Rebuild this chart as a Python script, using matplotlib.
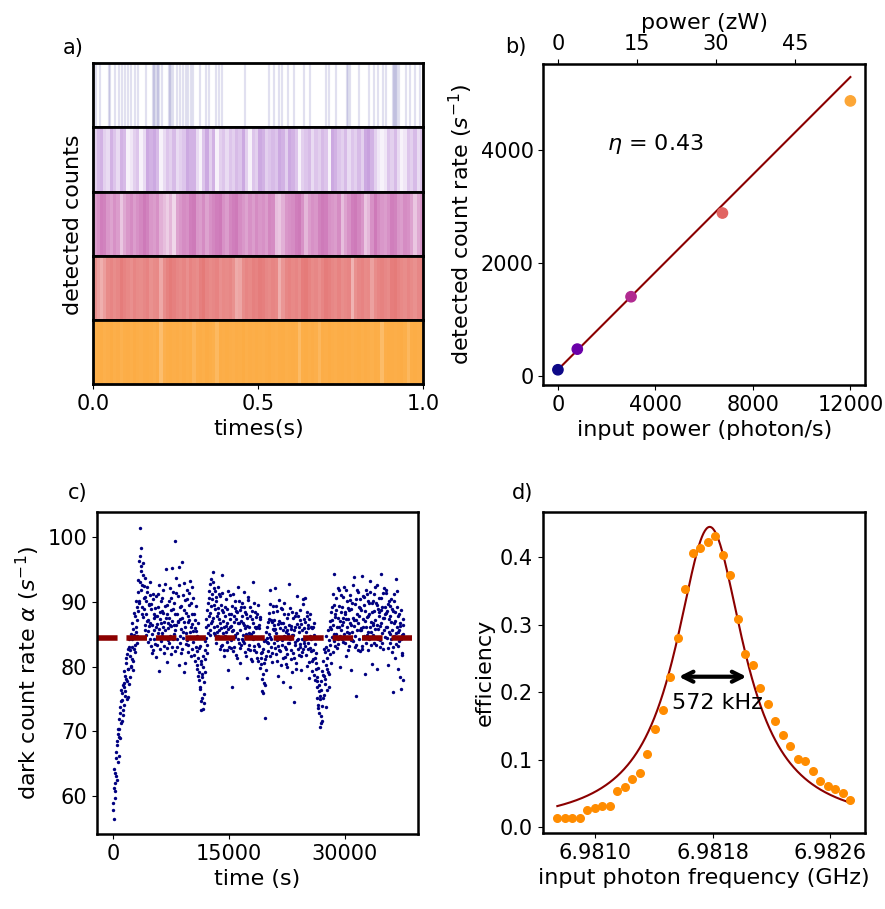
import numpy as np
import matplotlib.pyplot as plt
from matplotlib.colors import to_rgb

plt.rcParams['font.size'] = 15
plt.rcParams['axes.labelsize'] = 16

# colours of the five input powers (plasma 0, .2, .4, .6, .8)
row_colors = ['#0d0887', '#6a00a8', '#b12a90', '#e16462', '#fca636']

# a) lowest power: single detection events (s)
row1_times = [0.007, 0.021, 0.048, 0.052, 0.065, 0.078, 0.088, 0.096, 0.105, 0.113,
              0.125, 0.135, 0.159, 0.182, 0.185, 0.187, 0.193, 0.196, 0.199, 0.209,
              0.229, 0.231, 0.235, 0.242, 0.254, 0.263, 0.273, 0.282, 0.288, 0.296,
              0.302, 0.324, 0.341, 0.350, 0.371, 0.381, 0.390, 0.461, 0.532, 0.547,
              0.562, 0.572, 0.590, 0.607, 0.638, 0.656, 0.705, 0.715, 0.735, 0.770,
              0.772, 0.779, 0.804, 0.835, 0.850, 0.863, 0.878, 0.888, 0.907, 0.910,
              0.913, 0.916, 0.919, 0.925, 0.948, 0.961, 0.976, 0.991]

# a) higher powers: detections per 10 ms bin
row2_counts = [4, 6, 7, 4, 3, 7, 5, 3, 7, 6, 1, 2, 4, 5, 1, 3, 8, 7, 8, 6,
               1, 3, 5, 4, 6, 3, 4, 5, 8, 7, 7, 3, 1, 5, 8, 4, 7, 1, 4, 5,
               3, 5, 4, 6, 5, 8, 4, 1, 5, 4, 8, 7, 4, 5, 6, 5, 8, 7, 4, 8,
               7, 5, 1, 4, 5, 6, 3, 5, 4, 6, 5, 1, 8, 7, 5, 4, 6, 3, 5, 4,
               6, 4, 8, 9, 7, 4, 2, 1, 2, 5, 4, 6, 3, 1, 2, 5, 4, 6, 3, 5]
row3_counts = [12, 14, 18, 17, 13, 11, 14, 12, 6, 10, 13, 15, 12, 14, 16, 19, 17, 13, 12, 14,
               9, 7, 5, 8, 4, 11, 13, 15, 14, 18, 19, 13, 12, 15, 11, 14, 16, 18, 19, 14,
               12, 16, 18, 19, 15, 13, 11, 14, 12, 15, 13, 14, 12, 16, 15, 7, 6, 9, 13, 14,
               15, 18, 19, 14, 8, 12, 14, 13, 17, 19, 18, 14, 13, 12, 15, 7, 11, 14, 18, 19,
               16, 13, 6, 8, 14, 19, 15, 13, 12, 14, 18, 17, 13, 12, 15, 14, 11, 6, 10, 13]
row4_counts = [24, 18, 14, 19, 27, 30, 26, 29, 36, 31, 28, 25, 30, 27, 26, 29, 31, 24, 27, 28,
               16, 26, 32, 37, 33, 29, 27, 30, 25, 31, 28, 26, 34, 38, 30, 27, 29, 31, 25, 28,
               27, 29, 24, 15, 17, 26, 30, 28, 33, 31, 36, 34, 29, 27, 30, 28, 14, 22, 29, 31,
               28, 30, 26, 35, 37, 31, 27, 29, 25, 30, 36, 33, 29, 27, 31, 26, 28, 30, 13, 24,
               29, 31, 27, 28, 18, 26, 30, 32, 29, 27, 35, 37, 31, 28, 26, 30, 27, 24, 29, 31]
row5_counts = [44, 47, 50, 43, 46, 52, 45, 48, 41, 47, 49, 45, 51, 47, 44, 48, 50, 46, 43, 49,
               25, 42, 47, 50, 46, 48, 44, 49, 45, 47, 33, 46, 49, 45, 51, 47, 43, 30, 48, 46,
               50, 46, 44, 49, 47, 52, 45, 48, 46, 50, 47, 45, 49, 51, 46, 44, 48, 50, 45, 47,
               49, 46, 28, 47, 50, 45, 48, 44, 32, 49, 46, 51, 47, 45, 49, 50, 46, 48, 44, 47,
               50, 45, 48, 46, 43, 49, 47, 27, 46, 50, 48, 46, 49, 51, 45, 31, 47, 50, 46, 48]

# b) count rate vs input power
power_in = [0, 795, 3000, 6750, 12000]
count_rate = [118, 482, 1406, 2882, 4859]
eta = 0.43
rate_offset = 120

# c) dark count rate, two interleaved runs, one point every 80 s each
dark_step = 80
dark_rate_a = [
    58.9, 61.2, 56.4, 63.5, 60.8, 65.9, 62.4, 67.8, 69.6, 66.1,
    70.3, 72.8, 68.9, 74.6, 71.5, 75.9, 73.2, 77.4, 74.1, 78.6,
    76.2, 80.5, 77.8, 81.9, 75.3, 79.7, 83.1, 78.4, 82.6, 80.1,
    84.3, 81.2, 79.5, 85.8, 82.7, 87.9, 83.4, 86.1, 89.2, 84.8,
    88.6, 93.4, 90.2, 97.1, 101.5, 91.8, 95.6, 89.3, 94.2, 87.7,
    92.5, 86.4, 90.8, 88.1, 84.9, 91.6, 87.2, 85.5, 89.7, 93.1,
    86.8, 83.2, 88.9, 85.1, 90.4, 82.6, 87.5, 84.3, 89.1, 86.2,
    81.5, 87.9, 84.6, 91.2, 85.8, 79.3, 88.4, 86.7, 83.9, 90.6,
    85.2, 88.3, 82.1, 86.9, 92.8, 84.4, 87.6, 80.7, 89.5, 85.9,
    83.6, 90.1, 86.5, 88.8, 81.9, 95.3, 87.1, 84.2, 89.9, 86.4,
    99.5, 85.7, 91.4, 83.1, 88.2, 86.9, 80.2, 92.6, 87.3, 84.8,
    89.4, 82.7, 96.2, 85.3, 88.7, 79.1, 90.3, 86.2, 83.5, 91.9,
    84.1, 87.8, 82.3, 89.6, 85.4, 93.2, 81.6, 88.1, 86.6, 83.8,
    90.7, 84.6, 87.2, 80.9, 85.5, 82.4, 79.6, 86.8, 81.3, 77.9,
    83.2, 76.5, 80.4, 74.7, 78.9, 73.4, 81.7, 75.8, 79.2, 82.6,
    84.5, 87.3, 82.1, 89.8, 86.4, 91.7, 84.9, 88.3, 93.5, 86.7,
    90.4, 87.6, 94.6, 85.2, 92.1, 88.9, 83.7, 90.8, 86.3, 89.1,
    84.7, 91.3, 87.4, 82.8, 89.6, 85.9, 94.2, 83.4, 88.5, 86.1,
    81.6, 87.9, 85.3, 90.5, 83.8, 86.7, 79.4, 88.2, 84.5, 91.1,
    86.3, 82.9, 89.4, 76.9, 85.6, 87.8, 83.1, 90.2, 84.9, 88.6,
    85.2, 81.4, 92.4, 86.8, 83.6, 88.7, 80.5, 87.1, 84.3, 89.9,
    83.9, 86.5, 91.6, 82.2, 88.4, 85.1, 78.3, 87.5, 84.8, 90.3,
    86.1, 82.5, 89.2, 84.7, 87.3, 80.8, 93.1, 85.4, 83.2, 88.5,
    84.6, 87.7, 81.3, 86.2, 89.6, 83.5, 85.9, 79.8, 87.4, 82.1,
    80.4, 76.2, 78.9, 82.7, 77.4, 84.1, 72.0, 81.6, 85.3, 83.8,
    86.9, 82.4, 88.3, 84.6, 91.8, 83.1, 87.2, 80.7, 85.8, 89.4,
    83.7, 86.4, 92.1, 81.9, 85.2, 88.6, 78.5, 84.3, 87.1, 82.6,
    85.9, 80.3, 89.1, 83.4, 86.8, 77.6, 84.7, 88.2, 81.5, 85.4,
    82.8, 87.5, 79.9, 85.1, 92.8, 83.6, 76.8, 86.3, 81.2, 84.9,
    88.4, 82.1, 85.7, 74.5, 87.9, 83.3, 80.6, 86.6, 90.9, 84.2,
    81.8, 86.1, 83.5, 88.8, 79.4, 85.6, 82.3, 89.7, 84.1, 87.3,
    83.2, 90.6, 85.4, 80.1, 87.8, 82.7, 86.5, 78.2, 84.8, 88.1,
    82.4, 85.9, 79.3, 84.6, 81.1, 86.7, 77.9, 83.5, 80.6, 78.4,
    75.2, 79.8, 73.6, 77.1, 70.6, 74.9, 72.3, 76.4, 71.5, 78.7,
    80.9, 75.6, 82.3, 78.1, 84.7, 73.8, 81.4, 79.2, 85.6, 76.8,
    83.4, 87.1, 80.6, 85.8, 89.3, 82.2, 86.4, 94.4, 83.9, 88.2,
    85.1, 90.7, 82.9, 87.6, 84.3, 91.8, 86.2, 79.9, 88.5, 85.7,
    89.3, 83.8, 86.9, 92.4, 84.5, 88.1, 81.7, 87.3, 90.2, 85.4,
    82.6, 88.7, 85.2, 91.1, 86.4, 79.5, 89.8, 84.1, 87.6, 93.9,
    86.3, 83.1, 90.5, 75.4, 88.2, 85.7, 91.6, 84.3, 87.9, 82.4,
    89.1, 85.6, 94.1, 83.2, 87.4, 90.8, 84.7, 78.8, 88.6, 86.2,
    91.3, 84.9, 87.8, 82.5, 89.9, 86.1, 93.2, 85.3, 80.4, 88.4,
    86.7, 90.1, 83.6, 92.3, 87.2, 84.4, 89.5, 79.7, 88.9, 85.8,
    90.6, 86.3, 83.1, 88.7, 94.4, 85.2, 91.4, 82.8, 87.5, 89.2,
    84.6, 88.3, 91.9, 86.1, 80.3, 89.7, 85.4, 87.8, 83.7, 90.5,
    86.9, 82.2, 88.6, 76.1, 91.2, 84.8, 87.1, 93.6, 83.5, 89.3,
    85.3, 79.6, 88.1, 83.9, 86.7, 76.5, 84.2, 81.8, 87.4, 85.1]
dark_rate_b = [
    57.8, 64.2, 59.7, 61.9, 66.8, 63.1, 68.5, 65.2, 70.4, 71.9,
    69.1, 73.7, 76.3, 71.2, 74.8, 77.1, 72.5, 79.3, 76.8, 75.4,
    81.3, 78.1, 74.9, 82.8, 79.6, 84.2, 77.3, 81.7, 85.1, 79.9,
    83.1, 86.7, 80.8, 84.9, 88.3, 82.2, 85.4, 90.1, 83.7, 87.2,
    91.5, 89.8, 96.4, 93.1, 98.4, 94.8, 88.2, 92.6, 96.1, 90.7,
    88.9, 93.8, 85.6, 90.2, 87.1, 92.4, 83.8, 89.5, 86.3, 91.1,
    84.2, 89.7, 86.4, 82.1, 91.3, 85.7, 88.2, 83.5, 87.8, 90.9,
    86.6, 83.4, 89.3, 85.2, 92.7, 87.4, 82.8, 90.1, 84.7, 88.6,
    91.8, 86.1, 83.2, 89.4, 85.6, 95.1, 82.9, 88.1, 86.8, 84.1,
    87.5, 92.2, 84.8, 90.6, 86.3, 83.1, 88.9, 91.5, 85.1, 82.4,
    88.1, 93.7, 86.4, 84.2, 90.9, 87.1, 95.4, 83.6, 89.2, 85.8,
    82.1, 87.6, 91.1, 84.5, 86.9, 92.9, 80.6, 88.3, 85.2, 90.4,
    86.9, 83.3, 91.4, 87.2, 84.6, 89.8, 86.1, 92.4, 82.7, 85.5,
    88.2, 81.8, 85.9, 89.4, 83.1, 80.2, 84.7, 78.6, 82.9, 79.1,
    76.8, 80.9, 73.2, 78.4, 75.1, 79.9, 74.3, 77.6, 81.2, 83.9,
    86.1, 83.4, 88.7, 85.2, 90.6, 87.9, 92.8, 85.6, 89.4, 91.2,
    87.1, 93.1, 89.6, 86.2, 91.7, 84.9, 90.2, 87.8, 85.3, 92.4,
    88.3, 85.6, 90.9, 86.8, 83.2, 88.7, 91.4, 85.2, 87.1, 82.6,
    89.2, 84.7, 86.3, 82.5, 88.9, 85.8, 91.7, 83.1, 87.4, 86.2,
    84.1, 88.2, 85.5, 91.3, 82.4, 86.9, 89.1, 84.6, 81.8, 87.3,
    88.4, 84.2, 86.7, 90.1, 82.9, 85.6, 89.3, 83.4, 87.8, 84.9,
    86.8, 89.2, 83.7, 85.9, 81.6, 88.1, 86.3, 90.8, 82.7, 85.2,
    83.4, 87.9, 85.1, 81.2, 88.6, 84.2, 86.8, 89.9, 82.6, 86.1,
    85.9, 82.3, 88.1, 84.4, 80.9, 86.5, 83.2, 87.7, 81.4, 84.6,
    78.1, 82.3, 75.9, 80.6, 83.9, 77.2, 81.1, 79.4, 84.5, 86.2,
    83.6, 87.4, 85.1, 81.6, 89.7, 84.3, 86.9, 82.1, 88.4, 85.7,
    87.2, 82.9, 85.8, 89.4, 84.1, 80.8, 86.6, 83.2, 90.3, 84.5,
    82.4, 86.7, 84.1, 88.9, 81.3, 85.6, 89.8, 83.1, 86.2, 80.4,
    85.6, 81.9, 88.2, 83.7, 86.4, 84.2, 89.1, 82.5, 85.8, 79.2,
    84.9, 87.6, 81.4, 83.8, 86.2, 79.6, 88.3, 84.1, 82.7, 87.9,
    85.4, 83.1, 87.2, 81.7, 86.6, 84.3, 90.4, 82.8, 85.9, 83.6,
    86.9, 84.2, 81.8, 88.4, 83.6, 85.9, 80.7, 87.3, 82.9, 86.1,
    84.3, 80.9, 86.2, 82.6, 78.7, 84.9, 81.3, 79.6, 82.1, 76.9,
    77.8, 74.1, 76.2, 72.8, 75.4, 71.2, 77.7, 73.9, 79.3, 75.1,
    78.6, 82.8, 77.3, 80.2, 83.1, 79.7, 76.4, 82.5, 78.9, 84.1,
    86.1, 81.9, 88.4, 84.6, 87.2, 91.3, 85.1, 89.6, 83.2, 87.7,
    88.8, 84.6, 86.2, 92.1, 83.5, 89.4, 87.1, 84.8, 91.1, 86.4,
    84.2, 90.8, 87.6, 85.1, 88.4, 83.7, 91.9, 86.2, 84.6, 89.1,
    87.4, 83.2, 90.3, 86.8, 84.1, 88.9, 85.3, 92.6, 83.9, 87.2,
    89.7, 84.8, 87.2, 83.3, 91.9, 86.7, 82.5, 89.2, 85.6, 90.4,
    85.9, 88.8, 82.7, 90.9, 86.2, 84.4, 89.5, 87.1, 91.8, 83.6,
    87.7, 90.2, 85.4, 88.1, 84.2, 91.6, 86.9, 83.4, 89.8, 86.5,
    84.9, 88.6, 91.2, 85.8, 83.3, 89.9, 86.4, 92.7, 84.2, 87.9,
    88.4, 84.1, 90.7, 86.8, 89.3, 83.6, 87.5, 92.2, 85.7, 88.1,
    86.2, 91.4, 84.5, 88.6, 82.9, 87.3, 90.1, 85.1, 89.4, 84.3,
    88.9, 85.7, 83.1, 90.2, 86.8, 81.4, 88.5, 85.2, 91.7, 86.1,
    83.2, 87.9, 85.6, 78.4, 86.3, 88.7, 82.1, 84.9, 77.9, 86.4]
dark_mean = 84.5

# d) efficiency vs input frequency
freq = np.linspace(6.98074, 6.98274, 40)
efficiency = [0.013, 0.013, 0.014, 0.014, 0.025, 0.029, 0.031, 0.031, 0.054, 0.059,
              0.072, 0.080, 0.108, 0.146, 0.174, 0.223, 0.280, 0.353, 0.406, 0.414,
              0.422, 0.432, 0.403, 0.373, 0.308, 0.257, 0.240, 0.206, 0.182, 0.157,
              0.137, 0.120, 0.101, 0.098, 0.083, 0.069, 0.061, 0.056, 0.050, 0.040]
f0 = 6.98178        # GHz
fwhm = 572e-6       # GHz
peak_eff = 0.445

fig = plt.figure(figsize=(8.85, 9.09), dpi=100)

# ---------- a) ----------
top, bottom = 0.9304, 0.5776
h = (top - bottom) / 5
row_axes = []
for i in range(5):
    ax = fig.add_axes([0.1054, top - (i + 1) * h, 0.3729, h])
    ax.set_xlim(0, 1)
    ax.set_ylim(0, 1)
    ax.set_yticks([])
    for s in ax.spines.values():
        s.set_linewidth(2)
    row_axes.append(ax)

row_axes[0].vlines(row1_times, 0, 1, color=row_colors[0], alpha=0.12, lw=1.6)
bins = np.arange(100) / 100
for ax, counts, c in zip(row_axes[1:], [row2_counts, row3_counts, row4_counts, row5_counts],
                         row_colors[1:]):
    a = 1 - (1 - 0.05) ** np.array(counts)
    rgba = [(*to_rgb(c), ai) for ai in a]
    ax.bar(bins, 1, width=0.01, align='edge', color=rgba, linewidth=0)
for ax in row_axes[:-1]:
    ax.set_xticks([])
row_axes[-1].set_xticks([0, 0.5, 1.0])
row_axes[-1].set_xlabel('times(s)')
fig.text(0.083, 0.7525, 'detected counts', rotation=90, ha='center', va='center', fontsize=16)
fig.text(0.071, 0.947, 'a)', ha='left', va='center')

# ---------- b) ----------
axb = fig.add_axes([0.6139, 0.5765, 0.3635, 0.3531])
xfit = np.array([0, 12000])
axb.plot(xfit, eta * xfit + rate_offset, color='darkred', lw=1.5)
axb.scatter(power_in, count_rate, c=row_colors, s=55, zorder=3)
axb.set_xlim(-600, 12600)
axb.set_ylim(-150, 5510)
axb.set_xticks([0, 4000, 8000, 12000])
axb.set_yticks([0, 2000, 4000])
axb.set_xlabel('input power (photon/s)')
axb.set_ylabel('detected count rate ($s^{-1}$)')
axb.text(2000, 4100, r'$\eta$ = 0.43', va='center', fontsize=16)
hf = 6.626e-34 * 6.9818e9 * 1e21   # zW per photon/s
sec = axb.secondary_xaxis('top', functions=(lambda n: n * hf, lambda p: p / hf))
sec.set_xticks([0, 15, 30, 45])
sec.set_xlabel('power (zW)')
fig.text(0.571, 0.948, 'b)', ha='left', va='center')

# ---------- c) ----------
axc = fig.add_axes([0.1096, 0.0825, 0.3627, 0.3539])
t_a = np.arange(len(dark_rate_a)) * dark_step
t_b = np.arange(len(dark_rate_b)) * dark_step + dark_step / 2
axc.scatter(t_a, dark_rate_a, s=6, color='navy', linewidths=0)
axc.scatter(t_b, dark_rate_b, s=6, color='navy', linewidths=0)
axc.axhline(dark_mean, color='darkred', lw=4, ls='--')
axc.set_xlim(-2070, 39440)
axc.set_ylim(54.06, 103.9)
axc.set_xticks([0, 15000, 30000])
axc.set_yticks([60, 70, 80, 90, 100])
axc.set_xlabel('time (s)')
axc.set_ylabel(r'dark count rate $\alpha$ ($s^{-1}$)')
fig.text(0.0768, 0.458, 'c)', ha='left', va='center')

# ---------- d) ----------
axd = fig.add_axes([0.6132, 0.0836, 0.3642, 0.3528])
ff = np.linspace(freq[0], freq[-1], 400)
lor = peak_eff / (1 + ((ff - f0) / (fwhm / 2)) ** 2)
axd.plot(ff, lor, color='darkred', lw=1.5)
axd.scatter(freq, efficiency, s=30, color='darkorange', zorder=3)
axd.annotate('', xy=(f0 - 0.00023, 0.223), xytext=(f0 + 0.00027, 0.223),
             arrowprops=dict(arrowstyle='<->', lw=3, color='black', mutation_scale=18))
axd.text(6.98183, 0.184, '572 kHz', ha='center', va='center', fontsize=16)
axd.set_xlim(6.98064, 6.98284)
axd.set_ylim(-0.0086, 0.4666)
axd.set_xticks([6.9810, 6.9818, 6.9826], ['6.9810', '6.9818', '6.9826'])
axd.set_yticks([0.0, 0.1, 0.2, 0.3, 0.4])
axd.set_xlabel('input photon frequency (GHz)')
axd.set_ylabel('efficiency')
fig.text(0.5785, 0.458, 'd)', ha='left', va='center')

for ax in [axb, axc, axd]:
    for s in ax.spines.values():
        s.set_linewidth(1.8)

fig.savefig('out.png', dpi=100)
